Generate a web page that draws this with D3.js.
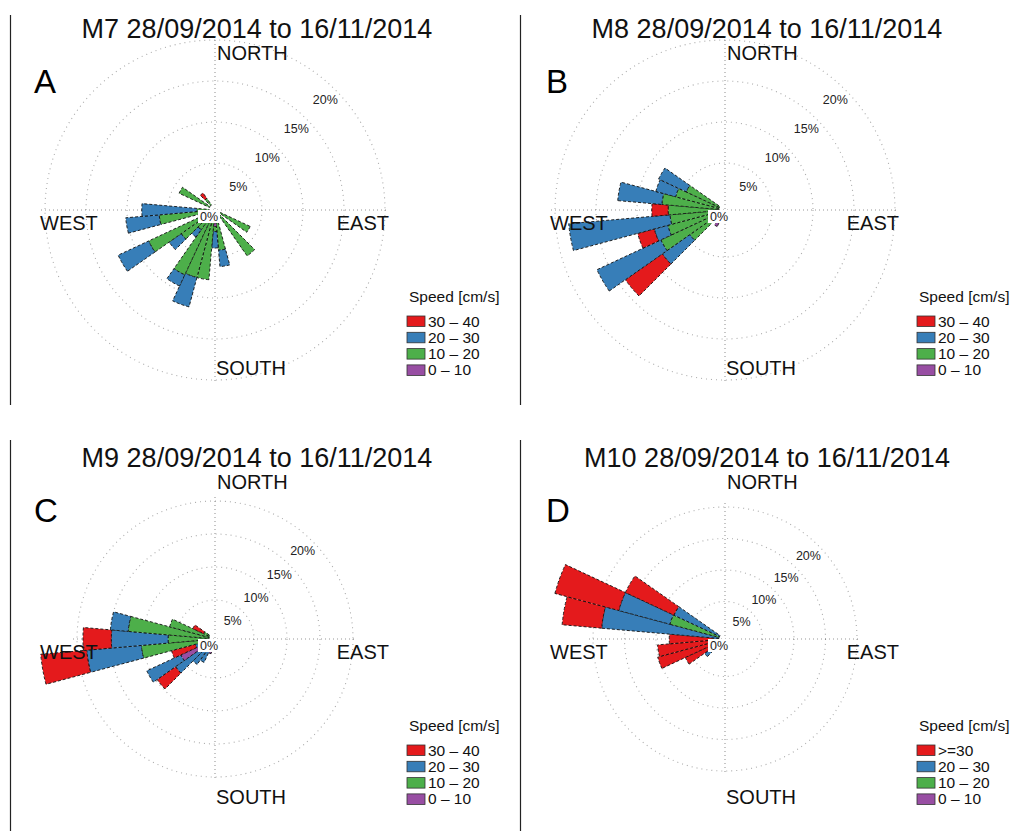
<!DOCTYPE html>
<html>
<head>
<meta charset="utf-8">
<script src="https://cdn.jsdelivr.net/npm/d3@7"></script>
<style>
  html, body { margin: 0; padding: 0; background: #fff; }
  svg { display: block; }
  text { font-family: "Liberation Sans", Arial, Helvetica, sans-serif; }
</style>
</head>
<body>
<svg id="chart" width="1011" height="831"></svg>
<script>
// ---- data: frequency (%) of current direction per 10° sector, stacked by speed class ----
const period = "28/09/2014 to 16/11/2014";
const stationNames = ["M7", "M8", "M9", "M10"];
const panelLetters = ["A", "B", "C", "D"];
const speedLabels = ["0 – 10", "10 – 20", "20 – 30", "30 – 40"];
const speedLabelsM10 = ["0 – 10", "10 – 20", "20 – 30", ">=30"];
const speedColors = ["#984ea3", "#4daf4a", "#377eb8", "#e41a1c"];
const ringTicks = [5, 10, 15, 20];
const compassLabels = ["NORTH", "EAST", "SOUTH", "WEST"];

// M7
const m7Dirs   = [120, 140, 170, 180, 190, 200, 210, 220, 230, 240, 260, 270, 300, 320];
const m7Speed0 = [0,   0,   0.6, 1.3, 0,   0,   0,   0,   0,   0,   0,   0,   0,   0];
const m7Speed1 = [4.0, 6.1, 3.6, 0.6, 7.8, 7.8, 8.0, 2.2, 4.3, 8.2, 6.1, 1.5, 4.1, 1.0];
const m7Speed2 = [0,   0,   2.0, 2.0, 0,   3.7, 1.5, 1.1, 1.8, 4.1, 4.1, 6.7, 0,   0];
const m7Speed3 = [0,   0,   0,   0,   0,   0,   0,   0,   0,   0,   0,   0,   0,   0.8];

// M8
const m8Dirs   = [210, 230, 240, 250, 260, 270, 280, 290, 300];
const m8Speed0 = [1.5, 0,   0,   0,   0,    0,   0,   0,   0];
const m8Speed1 = [0,   4.5, 7.9, 6.5, 6.0,  6.2, 7.0, 5.5, 4.5];
const m8Speed2 = [0,   4.1, 8.6, 1.7, 12.4, 0,   5.4, 2.5, 3.7];
const m8Speed3 = [0,   5.5, 0,   2.1, 0,    2.0, 0,   0,   0];

// M9
const m9Dirs   = [190, 200, 210, 220, 230, 240, 250, 260,  270, 280,  290, 300];
const m9Speed0 = [1.0, 1.4, 0,   0,   0,   4.8, 0.3, 0,    0,   0,    0,   0];
const m9Speed1 = [0,   0,   0,   1.0, 1.0, 0,   0.8, 10.3, 6.2, 12.3, 6.2, 1.0];
const m9Speed2 = [0,   0,   3.0, 2.8, 5.4, 5.7, 1.1, 8.3,  8.6, 2.7,  0,   0];
const m9Speed3 = [0,   0,   0,   0,   3.4, 0,   3.7, 7.0,  4.3, 0,    0,   1.8];

// M10
const m10Dirs   = [230, 240, 250, 260, 270, 280,  290,  300];
const m10Speed0 = [0,   0,   0,   0,   0,   0,    0,    0];
const m10Speed1 = [0,   0,   0,   0,   0,   0,    8.1,  0];
const m10Speed2 = [3.0, 1.0, 1.0, 1.0, 1.0, 18.7, 8.4,  8.0];
const m10Speed3 = [0,   5.0, 9.1, 8.8, 6.9, 6.3,  10.5, 8.5];

// ---- layout ----
const svg = d3.select("#chart");
const sectorWidth = 10; // degrees

const panels = [
  { name: stationNames[0], letter: panelLetters[0], dirs: m7Dirs,  speeds: [m7Speed0, m7Speed1, m7Speed2, m7Speed3],     legend: speedLabels,    ox: 0,   oy: 0,   r20: 170 },
  { name: stationNames[1], letter: panelLetters[1], dirs: m8Dirs,  speeds: [m8Speed0, m8Speed1, m8Speed2, m8Speed3],     legend: speedLabels,    ox: 510, oy: 0,   r20: 170 },
  { name: stationNames[2], letter: panelLetters[2], dirs: m9Dirs,  speeds: [m9Speed0, m9Speed1, m9Speed2, m9Speed3],     legend: speedLabels,    ox: 0,   oy: 429, r20: 138 },
  { name: stationNames[3], letter: panelLetters[3], dirs: m10Dirs, speeds: [m10Speed0, m10Speed1, m10Speed2, m10Speed3], legend: speedLabelsM10, ox: 510, oy: 429, r20: 132 }
];

const toRad = d => d * Math.PI / 180;

// panel separators
[[10.5, 15, 405], [520.5, 15, 405], [10.5, 440, 831], [520.5, 440, 831]].forEach(([x, y1, y2]) => {
  svg.append("line").attr("x1", x).attr("x2", x).attr("y1", y1).attr("y2", y2)
    .attr("stroke", "#222").attr("stroke-width", 1.2);
});

panels.forEach(p => {
  const g = svg.append("g").attr("transform", `translate(${p.ox},${p.oy})`);
  const cx = 215, cy = 210;
  const r = d3.scaleLinear().domain([0, 20]).range([6, p.r20]);
  const axisR = p.r20 + 4;

  // title
  g.append("text").attr("x", 257).attr("y", 38).attr("text-anchor", "middle")
    .attr("font-size", 27).attr("fill", "#111").text(`${p.name} ${period}`);

  // panel letter
  g.append("text").attr("x", p.ox === 0 ? 34 : 36).attr("y", 93)
    .attr("font-family", "Lato, 'Open Sans', sans-serif").attr("font-size", 33)
    .attr("fill", "#000").text(p.letter);

  const rose = g.append("g").attr("transform", `translate(${cx},${cy})`);

  // grid rings
  rose.selectAll("circle.ring").data(ringTicks).join("circle")
    .attr("class", "ring").attr("r", d => r(d))
    .attr("fill", "none").attr("stroke", "#666").attr("stroke-width", 1.1)
    .attr("stroke-dasharray", "1,4").attr("opacity", 0.55);

  // N-S and E-W axes
  rose.append("line").attr("x1", 0).attr("x2", 0).attr("y1", -axisR).attr("y2", axisR)
    .attr("stroke", "#555").attr("stroke-width", 1.1).attr("stroke-dasharray", "1,3").attr("opacity", 0.6);
  rose.append("line").attr("x1", -axisR).attr("x2", axisR).attr("y1", 0).attr("y2", 0)
    .attr("stroke", "#555").attr("stroke-width", 1.1).attr("stroke-dasharray", "1,3").attr("opacity", 0.6);

  // stacked sectors
  const arc = d3.arc();
  const segs = [];
  p.dirs.forEach((dir, i) => {
    let cum = 0;
    p.speeds.forEach((vals, k) => {
      const v = vals[i];
      if (v > 0) {
        segs.push({ dir, k, inner: cum, outer: cum + v });
        cum += v;
      }
    });
  });
  rose.selectAll("path.seg").data(segs).join("path")
    .attr("class", "seg")
    .attr("d", s => arc({
      innerRadius: r(s.inner), outerRadius: r(s.outer),
      startAngle: toRad(s.dir - sectorWidth / 2), endAngle: toRad(s.dir + sectorWidth / 2)
    }))
    .attr("fill", s => speedColors[s.k])
    .attr("stroke", "#111").attr("stroke-width", 0.9).attr("stroke-dasharray", "3,2");

  // ring labels along the NE diagonal
  rose.selectAll("text.pct").data(ringTicks).join("text")
    .attr("class", "pct")
    .attr("x", d => (r(d) - 14) * Math.SQRT1_2)
    .attr("y", d => -(r(d) - 14) * Math.SQRT1_2 + 4)
    .attr("text-anchor", "middle").attr("font-size", 12.5).attr("fill", "#222")
    .text(d => d + "%");

  // centre label
  rose.append("rect").attr("x", -17).attr("y", 0).attr("width", 22).attr("height", 13).attr("fill", "#fff");
  rose.append("text").attr("x", -6).attr("y", 10.5).attr("text-anchor", "middle")
    .attr("font-size", 12.5).attr("fill", "#222").text("0%");

  // compass labels
  rose.append("text").attr("x", 2).attr("y", -150).attr("font-size", 20).attr("fill", "#111").text(compassLabels[0]);
  rose.append("text").attr("x", 174).attr("y", 20).attr("text-anchor", "end").attr("font-size", 20).attr("fill", "#111").text(compassLabels[1]);
  rose.append("text").attr("x", 1).attr("y", 165).attr("font-size", 20).attr("fill", "#111").text(compassLabels[2]);
  rose.append("text").attr("x", -175).attr("y", 20).attr("font-size", 20).attr("fill", "#111").text(compassLabels[3]);

  // legend
  const lg = g.append("g").attr("transform", "translate(407,0)");
  lg.append("text").attr("x", 2).attr("y", 302).attr("font-size", 15.5).attr("fill", "#111").text("Speed [cm/s]");
  const order = [3, 2, 1, 0];
  order.forEach((k, j) => {
    const y = 316 + j * 16.3;
    lg.append("rect").attr("x", 0).attr("y", y).attr("width", 18).attr("height", 10.5)
      .attr("fill", speedColors[k]).attr("stroke", "#333").attr("stroke-width", 0.8);
    lg.append("text").attr("x", 21).attr("y", y + 10.5).attr("font-size", 15.5).attr("fill", "#111").text(p.legend[k]);
  });
});
</script>
</body>
</html>
